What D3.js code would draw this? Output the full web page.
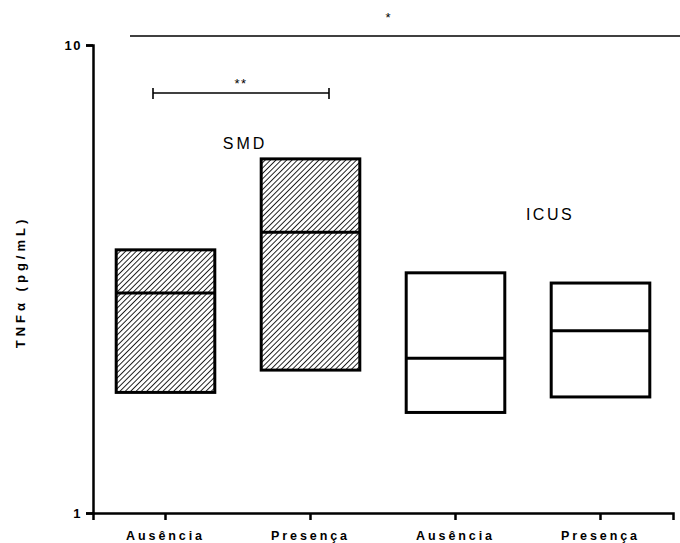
<!DOCTYPE html>
<html>
<head>
<meta charset="utf-8">
<script src="https://cdn.jsdelivr.net/npm/d3@7"></script>
<style>
  body { margin: 0; background: #fff; }
  svg text { font-family: "Liberation Sans", Arial, sans-serif; fill: #000; }
</style>
</head>
<body>
<svg id="chart" width="680" height="543"></svg>
<script>
// TNF-alpha levels (pg/mL): floating bars with min, median and max per group
const categories = ["SMD-Ausência", "SMD-Presença", "ICUS-Ausência", "ICUS-Presença"];
const tickLabels = ["Ausência", "Presença", "Ausência", "Presença"];
const lows    = [1.81, 2.02, 1.64, 1.77];
const medians = [2.95, 3.98, 2.14, 2.45];
const highs   = [3.65, 5.71, 3.26, 3.10];
const hatched = [true, true, false, false];
const yTicks  = [1, 10];

const svg = d3.select("#chart");

const x = d3.scaleBand().domain(categories).range([93, 673]).paddingInner(0.32).paddingOuter(0.16);
const y = d3.scaleLog().domain([1, 10]).range([513, 45]);

// hatch pattern for the SMD groups
const defs = svg.append("defs");
const pat = defs.append("pattern")
  .attr("id", "hatch").attr("patternUnits", "userSpaceOnUse")
  .attr("width", 3.8).attr("height", 3.8)
  .attr("patternTransform", "rotate(45)");
pat.append("rect").attr("width", 3.8).attr("height", 3.8).attr("fill", "#fff");
pat.append("line").attr("x1", 0).attr("y1", 0).attr("x2", 0).attr("y2", 3.8)
  .attr("stroke", "#000").attr("stroke-width", 1.7);

// bars
const g = svg.append("g");
categories.forEach((c, i) => {
  const x0 = x(c), w = x.bandwidth();
  g.append("rect")
    .attr("x", x0).attr("y", y(highs[i]))
    .attr("width", w).attr("height", y(lows[i]) - y(highs[i]))
    .attr("fill", hatched[i] ? "url(#hatch)" : "#fff")
    .attr("stroke", "#000").attr("stroke-width", 3);
  g.append("line")
    .attr("x1", x0).attr("x2", x0 + w)
    .attr("y1", y(medians[i])).attr("y2", y(medians[i]))
    .attr("stroke", "#000").attr("stroke-width", 3);
});

// y axis
const yAxis = svg.append("g").attr("transform", "translate(93,0)")
  .call(d3.axisLeft(y).tickValues(yTicks).tickFormat(d3.format("d")).tickSize(7).tickPadding(4));
yAxis.select(".domain").attr("stroke-width", 2.5);
yAxis.selectAll(".tick line").attr("stroke-width", 2.5);
yAxis.selectAll("text").attr("font-size", 13).attr("font-weight", "bold")
  .style("letter-spacing", "1.5px");

// x axis
const xAxis = svg.append("g").attr("transform", "translate(0,513)")
  .call(d3.axisBottom(x).tickSizeOuter(0).tickSize(7).tickPadding(11)
    .tickFormat((d, i) => tickLabels[i]));
xAxis.select(".domain").attr("stroke-width", 2.5);
xAxis.selectAll(".tick line").attr("stroke-width", 2.5);
xAxis.selectAll("text").attr("font-size", 12.5).attr("font-weight", "bold")
  .style("letter-spacing", "2.9px");

// y axis title
svg.append("text")
  .attr("transform", "translate(25,282) rotate(-90)")
  .attr("text-anchor", "middle")
  .attr("font-size", 13).attr("font-weight", "bold")
  .style("letter-spacing", "4px")
  .text("TNFα (pg/mL)");

// group labels
svg.append("text").attr("x", 245).attr("y", 149).attr("text-anchor", "middle")
  .attr("font-size", 16).style("letter-spacing", "3px").text("SMD");
svg.append("text").attr("x", 550).attr("y", 220).attr("text-anchor", "middle")
  .attr("font-size", 16).style("letter-spacing", "2.5px").text("ICUS");

// significance bracket between SMD groups
const bx1 = 153, bx2 = 329, by = 93;
svg.append("line").attr("x1", bx1).attr("x2", bx2).attr("y1", by).attr("y2", by)
  .attr("stroke", "#000").attr("stroke-width", 1.6);
[bx1, bx2].forEach(bx => svg.append("line").attr("x1", bx).attr("x2", bx)
  .attr("y1", by - 5).attr("y2", by + 6).attr("stroke", "#000").attr("stroke-width", 1.6));
svg.append("text").attr("x", 241).attr("y", 88).attr("text-anchor", "middle")
  .attr("font-size", 13).style("letter-spacing", "1.5px").text("**");

// overall significance line
svg.append("line").attr("x1", 130).attr("x2", 680).attr("y1", 36).attr("y2", 36)
  .attr("stroke", "#000").attr("stroke-width", 1.4);
svg.append("text").attr("x", 388).attr("y", 22).attr("text-anchor", "middle")
  .attr("font-size", 13).text("*");
</script>
</body>
</html>
